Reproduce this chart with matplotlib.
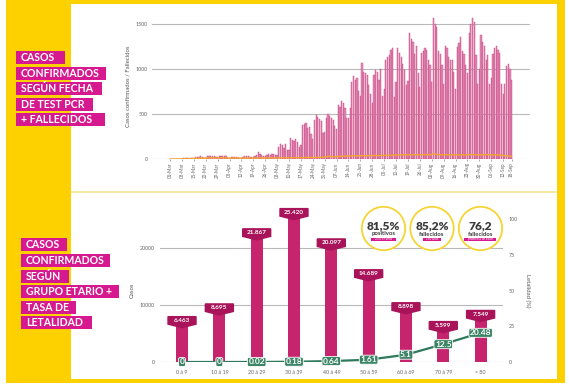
"""
COVID infographic: casos diarios por fecha de test PCR + fallecidos,
y casos por grupo etario con tasa de letalidad.
"""
import matplotlib

matplotlib.use("Agg")
import matplotlib.pyplot as plt
import matplotlib.patches as mpatches
import matplotlib.transforms as mtransforms
import numpy as np
import pandas as pd

plt.rcParams["font.family"] = ["Lato", "DejaVu Sans"]

# ---- datos: serie diaria (semanas dom..sab), 01-Mar a 18-Sep ----
START_DATE = "2020-03-01"
CASES_DAILY = [
    0, 0, 0, 2, 3, 5, 2,
    3, 8, 10, 12, 9, 11, 6,
    10, 22, 26, 24, 28, 25, 14,
    16, 30, 34, 38, 32, 35, 20,
    18, 33, 36, 30, 38, 28, 16,
    12, 25, 22, 20, 18, 15, 10,
    10, 24, 30, 28, 33, 26, 18,
    20, 35, 45, 75, 50, 44, 30,
    28, 48, 52, 45, 55, 50, 40,
    45, 130, 170, 150, 120, 165, 100,
    95, 230, 210, 200, 225, 190, 135,
    150, 380, 390, 400, 345, 360, 280,
    220, 430, 490, 470, 440, 420, 290,
    300, 460, 500, 480, 455, 430, 370,
    330, 600, 580, 640, 620, 570, 450,
    450, 570, 850, 920, 880, 900, 760,
    700, 1065, 970, 950, 930, 820, 720,
    620, 930, 990, 960, 880, 1000, 700,
    780, 1100, 1130, 1150, 1210, 1230, 690,
    850, 1230, 1180, 1130, 1050, 990, 820,
    870, 1400, 1330, 1300, 1170, 1250, 950,
    800, 1180, 1200, 1230, 1210, 1100, 1040,
    850, 1565, 1500, 1460, 1200, 1170, 1040,
    830, 1250, 1230, 1130, 1100, 1100, 960,
    780, 1240, 1290, 1355, 1200, 1170, 1040,
    950, 1400, 1500, 1565, 1520, 1150, 830,
    1000, 1380, 1300, 1250, 1100, 1150, 830,
    900, 1170, 1230, 1250, 1210, 1180, 830,
    720, 830, 1030, 1050, 1000, 875,
]
DEATHS_DAILY = [
    0, 0, 0, 0, 0, 0, 1,
    0, 1, 2, 1, 3, 2, 4,
    5, 6, 8, 7, 10, 9, 8,
    10, 12, 11, 14, 12, 13, 11,
    12, 14, 13, 15, 12, 14, 11,
    10, 12, 11, 13, 10, 12, 9,
    9, 11, 10, 12, 11, 10, 8,
    9, 10, 12, 11, 13, 12, 10,
    10, 12, 11, 13, 12, 11, 10,
    11, 13, 12, 14, 13, 12, 11,
    12, 14, 13, 15, 16, 14, 13,
    14, 16, 15, 18, 17, 16, 15,
    16, 18, 17, 20, 19, 18, 17,
    20, 24, 28, 30, 27, 25, 24,
    26, 28, 30, 29, 31, 33, 30,
    32, 36, 35, 38, 34, 36, 33,
    35, 38, 37, 36, 39, 37, 35,
    36, 38, 40, 37, 39, 41, 38,
    40, 42, 41, 44, 43, 45, 42,
    44, 46, 48, 45, 47, 46, 44,
    45, 47, 46, 49, 48, 46, 45,
    46, 48, 50, 47, 49, 48, 47,
    50, 58, 54, 50, 48, 49, 47,
    46, 48, 47, 49, 46, 48, 45,
    44, 46, 45, 47, 48, 46, 45,
    46, 48, 50, 49, 47, 48, 46,
    45, 47, 46, 48, 50, 47, 45,
    44, 46, 45, 47, 45, 44, 42,
    40, 38, 36, 35, 32, 28,
]

# ---- datos: grupo etario ----
AGE_GROUPS = ["0 á 9", "10 á 19", "20 á 29", "30 á 39", "40 á 49",
              "50 á 59", "60 á 69", "70 á 79", "> 80"]
AGE_CASES = [6463, 8695, 21867, 25420, 20097, 14689, 8898, 5599, 7549]
AGE_LETHALITY = [0, 0, 0.02, 0.18, 0.64, 1.61, 5.1, 12.5, 20.48]

# ---- textos ----
TOP_TITLE = ["CASOS", "CONFIRMADOS", "SEGÚN FECHA", "DE TEST PCR", "+ FALLECIDOS"]
BOTTOM_TITLE = ["CASOS", "CONFIRMADOS", "SEGÚN", "GRUPO ETARIO +", "TASA DE", "LETALIDAD"]
BADGES = [("81,5%", "positivos", "20 a 59 años"),
          ("85,2%", "fallecidos", "+60 años"),
          ("76,2", "fallecidos", "promedio de edad")]

YELLOW = "#fdd100"
MAGENTA = "#d6198f"
BAR_PINK = "#e28cb6"
BAR_DARK = "#c7246e"
BOX_DARK = "#a9135a"
GREEN = "#2f7a5c"
GREY = "#666666"

W, H = 569, 391
fig = plt.figure(figsize=(W / 100, H / 100), dpi=100)


def px_axes(left, top, right, bottom, **kw):
    return fig.add_axes([left / W, 1 - bottom / H, (right - left) / W, (bottom - top) / H], **kw)


# fondo / marcos (coordenadas en px, origen arriba-izquierda)
bg = px_axes(0, 0, W, H, zorder=-5)
bg.set_xlim(0, W); bg.set_ylim(H, 0); bg.axis("off")
bg.add_patch(mpatches.Rectangle((6, 0), 559, 383, color=YELLOW, lw=0))
bg.add_patch(mpatches.Rectangle((71, 4), 486, 187, color="white", lw=0))
bg.add_patch(mpatches.Rectangle((71, 191), 486, 2, color="#f7e9a0", lw=0))
bg.add_patch(mpatches.Rectangle((71, 193), 486, 186, color="white", lw=0))


def title_block(lines, left, text_x, rights, centers):
    for txt, r, cy in zip(lines, rights, centers):
        bg.add_patch(mpatches.Rectangle((left, cy - 6.5), r - left, 13, color=MAGENTA, lw=0))
        bg.text(text_x, cy + 0.5, txt, color="white", fontsize=7.6, fontweight="bold",
                ha="left", va="center")


title_block(TOP_TITLE, 16, 21, [65, 106, 102, 93, 105], [57, 73, 88, 104, 119])
title_block(BOTTOM_TITLE, 21, 26, [67, 110, 69, 119, 76, 92], [244, 260, 276, 291, 307, 322])

# ---- grafico superior: serie diaria ----
dates = pd.date_range(START_DATE, periods=len(CASES_DAILY), freq="D")
days = np.arange(len(CASES_DAILY))

ax = px_axes(152, 13, 530, 159)
ax.bar(days, CASES_DAILY, width=0.72, color=BAR_PINK, edgecolor="#c9427f", linewidth=0.3, zorder=2)
ax.plot(days, DEATHS_DAILY, color="#f4a52a", lw=1.0, zorder=3)
ax.set_xlim(-10.6, 211.8)
ax.set_ylim(0, 1620)
ax.set_yticks([0, 500, 1000, 1500])
ax.yaxis.grid(True, color="#b8b8b8", lw=0.8)
ax.set_axisbelow(True)
tick_idx = list(range(0, len(days), 7)) + [len(days) - 1]
ax.set_xticks(tick_idx)
ax.set_xticklabels([dates[i].strftime("%d-%b") for i in tick_idx], rotation=90)
ax.tick_params(axis="x", labelsize=3.3, colors=GREY, length=1.5, width=0.4, pad=1)
ax.tick_params(axis="y", labelsize=3.8, colors=GREY, length=0, pad=3)
for s in ax.spines.values():
    s.set_visible(False)
ax.set_ylabel("Casos confirmados / Fallecidos", fontsize=4.3, color="#555555", labelpad=4)

# ---- grafico inferior: grupo etario + letalidad ----
ax2 = px_axes(160, 219.5, 503, 362)
x = np.arange(len(AGE_GROUPS))
ax2.bar(x, AGE_CASES, width=0.32, color=BAR_DARK, zorder=2, clip_on=False)
ax2.set_xlim(-0.59, 8.6)
ax2.set_ylim(0, 25000)
ax2.set_yticks([0, 10000, 20000])
ax2.yaxis.grid(True, color="#b8b8b8", lw=0.8)
ax2.set_axisbelow(True)
ax2.set_xticks(x)
ax2.set_xticklabels(AGE_GROUPS)
ax2.tick_params(axis="x", labelsize=3.8, colors=GREY, length=0, pad=6)
ax2.tick_params(axis="y", labelsize=3.8, colors=GREY, length=0, pad=4)
for s in ax2.spines.values():
    s.set_visible(False)
ax2.set_ylabel("Casos", fontsize=4.3, color="#555555", labelpad=3)

# cartel tipo banderin sobre cada barra (vertices en px -> pulgadas)
shape = np.array([[-14, 8.5], [14, 8.5], [14, 1.0], [0, -2.5], [-14, 1.0]]) / 100
for xi, v in zip(x, AGE_CASES):
    tr = fig.dpi_scale_trans + mtransforms.ScaledTranslation(xi, v, ax2.transData)
    ax2.add_patch(mpatches.Polygon(shape, closed=True, transform=tr, color=BOX_DARK,
                                   zorder=4, clip_on=False))
    ax2.text(0, 0.045, f"{v:,}".replace(",", "."), transform=tr, ha="center", va="center",
             fontsize=4.6, fontweight="bold", color="white", zorder=5, clip_on=False)

ax3 = ax2.twinx()
ax3.set_ylim(0, 100)
ax3.set_yticks([0, 25, 50, 75, 100])
ax3.tick_params(axis="y", labelsize=3.8, colors=GREY, length=0, pad=4)
for s in ax3.spines.values():
    s.set_visible(False)
ax3.set_ylabel("Letalidad (%)", fontsize=4.3, color="#555555", rotation=270, labelpad=9)
ax3.plot(x, AGE_LETHALITY, color=GREEN, lw=1.6, zorder=3)
for xi, v in zip(x, AGE_LETHALITY):
    ax3.text(xi, v, f"{v:g}", ha="center", va="center", fontsize=6, color="white",
             fontweight="bold", zorder=6, clip_on=False,
             bbox=dict(boxstyle="round,pad=0.12,rounding_size=0.2", fc="#3c8466", ec="white", lw=0.6))

# ---- insignias circulares ----
fg = px_axes(0, 0, W, H, zorder=10)
fg.set_xlim(0, W); fg.set_ylim(H, 0); fg.axis("off")
for cx, (big, small, band), bw in zip([383.5, 432, 480.5], BADGES, [25, 18, 32]):
    fg.add_patch(mpatches.Circle((cx, 228.5), 21.7, fc="white", ec="#f5d535", lw=1.3))
    fg.text(cx, 225.5, big, ha="center", va="center", fontsize=8.6, fontweight="heavy", color="#3b3b3b")
    fg.text(cx, 234, small, ha="center", va="center", fontsize=4.3, fontweight="bold", color="#3b3b3b")
    fg.add_patch(mpatches.Rectangle((cx - bw / 2, 237.5), bw, 3.6, color=MAGENTA, lw=0))
    fg.text(cx, 239.4, band, ha="center", va="center", fontsize=2.2, color="white")

fig.savefig("out.png", dpi=100)
